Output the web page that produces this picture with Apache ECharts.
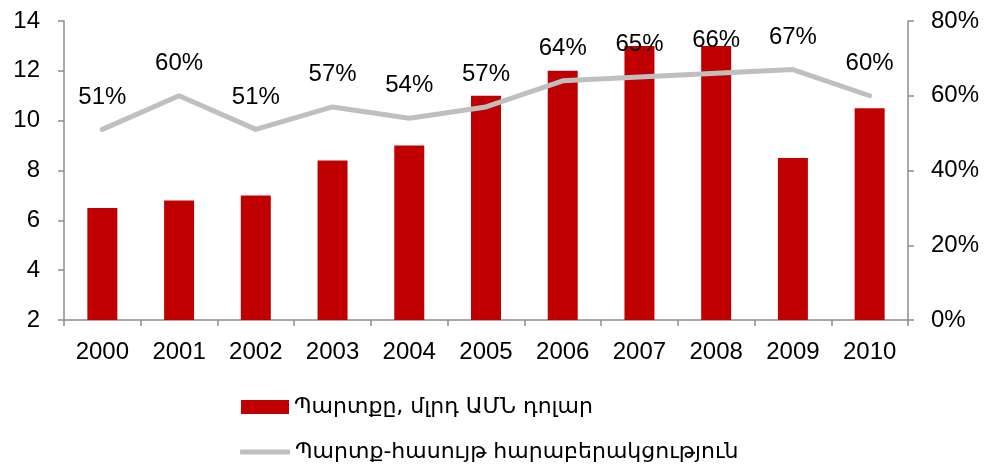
<!DOCTYPE html>
<html>
<head>
<meta charset="utf-8">
<script src="https://cdn.jsdelivr.net/npm/echarts@6/dist/echarts.min.js"></script>
<style>html,body{margin:0;padding:0;background:#fff}#c{width:985px;height:470px}</style>
</head>
<body>
<div id="c"></div>
<script>
const categories = ['2000','2001','2002','2003','2004','2005','2006','2007','2008','2009','2010'];
const debt = [6.5, 6.8, 7.0, 8.4, 9.0, 11.0, 12.0, 13.0, 13.0, 8.5, 10.5];
const ratio = [51, 60, 51, 57, 54, 57, 64, 65, 66, 67, 60];
const debtName = 'Պարտքը, մլրդ ԱՄՆ դոլար';
const ratioName = 'Պարտք-հասույթ հարաբերակցություն';

const axisColor = '#8c8c8c';
const font = 'Liberation Sans, Arial, DejaVu Sans, sans-serif';
const legendText = {fontSize: 22, color: '#000', fontFamily: 'DejaVu Sans, sans-serif'};
const chart = echarts.init(document.getElementById('c'));
chart.setOption({
  animation: false,
  textStyle: {fontFamily: font},
  grid: {left: 64, right: 77, top: 21, bottom: 150, containLabel: false},
  legend: [{
    left: 241, top: 396, itemGap: 0,
    itemWidth: 48, itemHeight: 14, padding: 0,
    textStyle: legendText,
    data: [{name: debtName, icon: 'rect'}]
  }, {
    left: 240, top: 441, itemGap: 0,
    itemWidth: 50, itemHeight: 5, padding: 0,
    textStyle: legendText,
    data: [{name: ratioName, icon: 'roundRect'}]
  }],
  xAxis: {
    type: 'category', data: categories,
    axisLine: {lineStyle: {color: axisColor, width: 1.5}},
    axisTick: {show: true, length: 6, lineStyle: {color: axisColor, width: 1.5}},
    axisLabel: {color: '#000', fontSize: 24, margin: 20}
  },
  yAxis: [{
    type: 'value', min: 2, max: 14, interval: 2,
    axisLine: {show: true, lineStyle: {color: axisColor, width: 1.5}},
    axisTick: {show: true, length: 6, lineStyle: {color: axisColor, width: 1.5}},
    axisLabel: {color: '#000', fontSize: 24, margin: 24},
    splitLine: {show: false}
  }, {
    type: 'value', min: 0, max: 80, interval: 20, position: 'right',
    axisLine: {show: true, lineStyle: {color: axisColor, width: 1.5}},
    axisTick: {show: true, length: 6, lineStyle: {color: axisColor, width: 1.5}},
    axisLabel: {color: '#000', fontSize: 24, margin: 23, formatter: '{value}%'},
    splitLine: {show: false}
  }],
  series: [{
    name: debtName, type: 'bar', data: debt, barWidth: 30,
    itemStyle: {color: '#c00000'}
  }, {
    name: ratioName, type: 'line', yAxisIndex: 1, data: ratio,
    symbol: 'circle', symbolSize: 1, showSymbol: true,
    lineStyle: {color: '#bfbfbf', width: 5, cap: 'round', join: 'round'},
    itemStyle: {color: '#bfbfbf'},
    label: {show: true, position: 'top', distance: 20, color: '#000', fontSize: 24, formatter: '{c}%'}
  }]
});
</script>
</body>
</html>
